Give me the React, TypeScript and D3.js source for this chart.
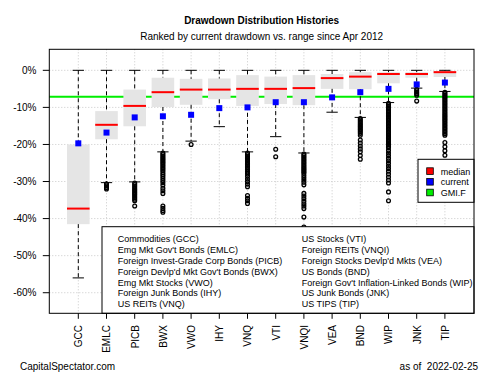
import React from "react";
import * as d3 from "d3";

const categories = ["GCC","EMLC","PICB","BWX","VWO","IHY","VNQ","VTI","VNQI","VEA","BND","WIP","JNK","TIP"];
const whiskerHigh = [0,0,0,0,0,0,0,0,0,0,0,0,0,0];
const boxTop = [-20, -11, -5.2, -2, -2.3, -2.2, -1.3, -1.7, -1.3, -1, -0.5, -0.5, -0.5, -0.2];
const medians = [-37.3, -14.7, -9.6, -5.9, -5.2, -5.2, -5.0, -5.0, -4.8, -2.1, -1.7, -1.0, -1.0, -0.5];
const boxBottom = [-41.5, -18.6, -15.1, -9.9, -9.3, -7.8, -9.6, -9.1, -9.4, -5.0, -5.1, -3.5, -2.0, -1.8];
const whiskerLow = [-56, -30.3, -30.1, -22, -19.1, -15.2, -22, -17.9, -22.3, -11.3, -12.7, -8.7, -4.8, -5.7];
const current = [-19.7, -16.8, -12.7, -12.4, -12.0, -10.2, -10.0, -8.6, -8.6, -7.3, -5.9, -5.0, -3.8, -3.3];
const gmif = -7.1;

const outGCC: number[] = [];
const outEMLC = [-30.6, -30.9, -31.2, -31.6, -32.0];
const outPICB = [-30.4,-30.8,-31.2,-31.6,-32.0,-32.4,-32.8,-33.2,-33.6,-34.0,-34.4,-34.8,-35.2,-36.6];
const outBWX = [-22.3,-22.7,-23.1,-23.5,-23.9,-24.3,-24.7,-25.1,-25.5,-25.9,-26.3,-26.7,-27.1,-27.6,-28.1,-28.6,-29.1,-29.7,-30.3,-31.0,-31.8,-32.5,-33.2,-36.6,-37.2,-37.8,-38.3];
const outVWO = [-20.0];
const outIHY: number[] = [];
const outVNQ = [-22.3,-22.7,-23.1,-23.5,-23.9,-24.3,-24.7,-25.1,-25.5,-25.9,-26.3,-26.8,-27.4,-28.0,-28.6,-29.3,-30.0,-30.7,-31.4,-33.8,-34.5,-35.2,-35.9];
const outVTI = [-21.3, -23.3];
const outVNQI = [-22.6,-23.0,-23.4,-23.8,-24.2,-24.6,-25.0,-25.4,-25.8,-26.2,-26.6,-27.0,-27.4,-27.8,-28.4,-29.0,-29.6,-30.2,-30.9,-33.2,-33.9,-34.6,-35.3,-36.0,-36.6,-37.3,-39.6,-42.3];
const outVEA: number[] = [];
const outBND = [-13.0,-13.4,-13.8,-14.2,-14.6,-15.0,-15.4,-15.8,-16.2,-16.6,-17.0,-17.5,-18.8,-19.6,-20.4,-21.2,-22.0,-23.0,-24.0];
const outWIP = [-8.9,-9.3,-9.7,-10.1,-10.5,-10.9,-11.3,-11.7,-12.1,-12.5,-12.9,-13.3,-13.7,-14.1,-14.5,-14.9,-15.3,-15.7,-16.1,-16.5,-16.9,-17.3,-17.7,-18.1,-18.5,-18.9,-19.3,-19.7,-20.1,-20.5,-20.9,-21.6,-22.3,-23.0,-23.7,-24.4,-25.1,-25.8,-26.5,-27.2,-28.0,-28.8,-29.6,-30.4,-32.8,-35.2];
const outJNK = [-5.1,-5.5,-5.9,-6.3,-6.7,-8.3];
const outTIP = [-5.9,-6.3,-6.7,-7.1,-7.5,-7.9,-8.3,-8.7,-9.1,-9.5,-9.9,-10.3,-10.7,-11.1,-11.5,-11.9,-12.3,-12.7,-13.1,-13.5,-13.9,-14.3,-14.7,-15.1,-15.5,-15.9,-16.3,-16.7,-17.1,-17.5,-19.5,-20.6,-21.7,-22.9];
const outliers = [outGCC,outEMLC,outPICB,outBWX,outVWO,outIHY,outVNQ,outVTI,outVNQI,outVEA,outBND,outWIP,outJNK,outTIP];

const yTicks = [0, -10, -20, -30, -40, -50, -60];
const legendCol1 = ["Commodities (GCC)", "Emg Mkt Gov't Bonds (EMLC)", "Foreign Invest-Grade Corp Bonds (PICB)", "Foreign Devlp'd Mkt Gov't Bonds (BWX)", "Emg Mkt Stocks (VWO)", "Foreign Junk Bonds (IHY)", "US REITs (VNQ)"];
const legendCol2 = ["US Stocks (VTI)", "Foreign REITs (VNQI)", "Foreign Stocks Devlp'd Mkts (VEA)", "US Bonds (BND)", "Foreign Gov't Inflation-Linked Bonds (WIP)", "US Junk Bonds (JNK)", "US TIPS (TIP)"];
const keyLabels = ["median", "current", "GMI.F"];
const keyColors = ["#ff0000", "#0000ff", "#00ee00"];

const title = "Drawdown Distribution Histories";
const subtitle = "Ranked by current drawdown vs. range since Apr 2012";

const FONT = "'Liberation Sans', Arial, Helvetica, sans-serif";

export default function App() {
  const L = 49.3, R = 474, T = 49.3, B = 313.3;
  const y = d3.scaleLinear().domain([-65.55, 5.67]).range([B, T]);
  const x = d3.scalePoint<string>().domain(categories).range([78.3, 444.9]);
  const bw = 22.6;
  const cw = 11.3;

  return (
    <svg width={500} height={375} style={{ position: "absolute", left: 0, top: 0, background: "#fff" }} fontFamily={FONT}>
      <rect x={0} y={0} width={500} height={375} fill="#fff" />
      <text x={(L + R) / 2} y={24} textAnchor="middle" fontSize={10} fontWeight="bold" fill="#000">{title}</text>
      <text x={(L + R) / 2} y={39.5} textAnchor="middle" fontSize={10} fill="#000">{subtitle}</text>

      {/* grid */}
      {yTicks.map((t) => (
        <line key={"gy" + t} x1={L} x2={R} y1={y(t)} y2={y(t)} stroke="#c8c8c8" strokeDasharray="1,2" />
      ))}
      {categories.map((c) => (
        <line key={"gx" + c} x1={x(c)} x2={x(c)} y1={T} y2={B} stroke="#c8c8c8" strokeDasharray="1,2" />
      ))}

      {/* GMI.F line */}
      <line x1={L} x2={R} y1={y(gmif)} y2={y(gmif)} stroke="#00ee00" strokeWidth={2} />

      {categories.map((c, i) => {
        const cx = x(c)!;
        return (
          <g key={"box" + c}>
            <rect x={cx - bw / 2} y={y(boxTop[i])} width={bw} height={y(boxBottom[i]) - y(boxTop[i])} fill="#e5e5e5" />
            <line x1={cx} x2={cx} y1={y(whiskerHigh[i])} y2={y(boxTop[i])} stroke="#000" strokeDasharray="4,3" />
            <line x1={cx} x2={cx} y1={y(boxBottom[i])} y2={y(whiskerLow[i])} stroke="#000" strokeDasharray="4,3" />
            <line x1={cx - cw / 2} x2={cx + cw / 2} y1={y(whiskerHigh[i])} y2={y(whiskerHigh[i])} stroke="#000" />
            <line x1={cx - cw / 2} x2={cx + cw / 2} y1={y(whiskerLow[i])} y2={y(whiskerLow[i])} stroke="#000" />
            {outliers[i].map((v, j) => (
              <circle key={j} cx={cx} cy={y(v)} r={1.9} fill="none" stroke="#000" strokeWidth={1.3} />
            ))}
            <line x1={cx - bw / 2} x2={cx + bw / 2} y1={y(medians[i])} y2={y(medians[i])} stroke="#ff0000" strokeWidth={2} />
            <rect x={cx - 3} y={y(current[i]) - 3} width={6} height={6} fill="#0000ff" />
          </g>
        );
      })}

      {/* right legend */}
      <rect x={418} y={159.3} width={R - 418} height={43} fill="#fff" stroke="#000" />
      {keyLabels.map((k, i) => (
        <g key={k}>
          <rect x={426.7} y={167.8 + i * 10.7} width={6.6} height={6.6} fill={keyColors[i]} stroke="#000" strokeWidth={0.8} />
          <text x={440.7} y={174.5 + i * 10.7} fontSize={9} fill="#000">{k}</text>
        </g>
      ))}

      {/* bottom legend */}
      <rect x={102} y={226.7} width={R - 102} height={B - 226.7} fill="#fff" stroke="#000" />
      {legendCol1.map((t, i) => (
        <text key={"l1" + i} x={117.7} y={242.3 + i * 10.8} fontSize={9} fill="#000">{t}</text>
      ))}
      {legendCol2.map((t, i) => (
        <text key={"l2" + i} x={301.7} y={242.3 + i * 10.8} fontSize={9} fill="#000">{t}</text>
      ))}

      {/* plot border */}
      <rect x={L} y={T} width={R - L} height={B - T} fill="none" stroke="#000" />

      {/* y axis */}
      {yTicks.map((t) => (
        <g key={"yt" + t}>
          <line x1={L - 6.5} x2={L} y1={y(t)} y2={y(t)} stroke="#000" />
          <text x={36.5} y={y(t) + 3.6} textAnchor="end" fontSize={10} fill="#000">{t + "%"}</text>
        </g>
      ))}

      {/* x axis */}
      {categories.map((c) => (
        <g key={"xt" + c}>
          <line x1={x(c)} x2={x(c)} y1={B} y2={B + 5.5} stroke="#000" />
          <text transform={`translate(${x(c)! + 3.8},325) rotate(-90)`} textAnchor="end" fontSize={10} fill="#000">{c}</text>
        </g>
      ))}

      <text x={20} y={370} fontSize={10} fill="#000">CapitalSpectator.com</text>
      <text x={478} y={370} textAnchor="end" fontSize={10} fill="#000" style={{ whiteSpace: "pre" }}>{"as of  2022-02-25"}</text>
    </svg>
  );
}
